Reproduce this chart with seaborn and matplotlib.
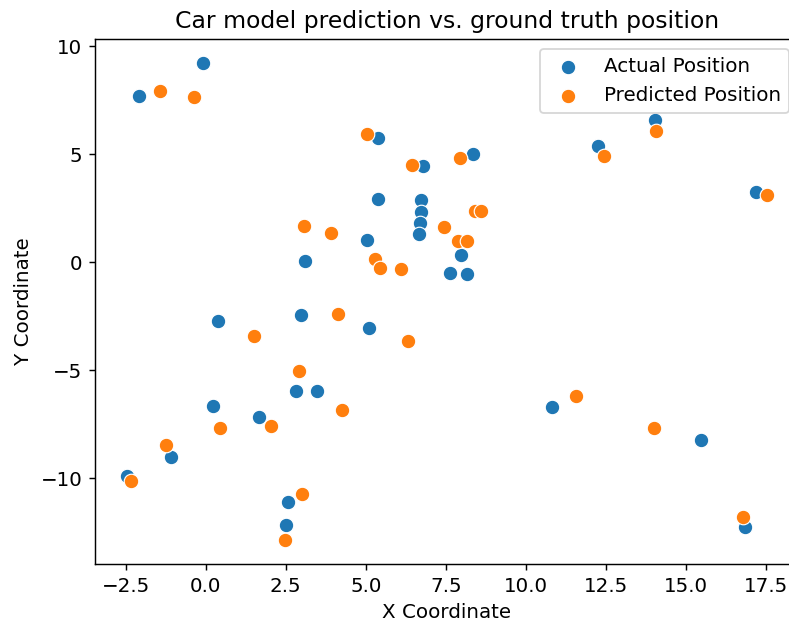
import matplotlib
matplotlib.use("Agg")
import matplotlib.pyplot as plt
import seaborn as sns
import pandas as pd

actual_x = [0.38, 2.99, 5.10, 2.81, 3.48, 0.23, 1.66, -1.09, -2.46, 2.57, 2.52,
            -0.10, -2.09, 5.38, 6.80, 5.38, 6.73, 6.72, 6.69, 6.67, 5.05, 3.10,
            8.34, 7.97, 7.62, 8.15, 14.04, 12.25, 17.20, 10.82, 15.46, 16.83]
actual_y = [-2.70, -2.42, -3.02, -5.97, -5.94, -6.67, -7.16, -9.00, -9.91, -11.10, -12.14,
            9.23, 7.70, 5.75, 4.46, 2.92, 2.87, 2.33, 1.81, 1.30, 1.05, 0.08,
            4.99, 0.32, -0.51, -0.52, 6.59, 5.37, 3.27, -6.70, -8.23, -12.24]

pred_x = [1.50, 4.12, 6.32, 2.91, 4.26, 2.05, 0.44, -1.25, -2.32, 3.01, 2.47,
          -1.43, -0.37, 5.04, 6.45, 3.06, 3.91, 5.30, 5.44, 6.09,
          7.95, 7.45, 8.41, 8.60, 7.88, 8.16, 14.05, 12.44, 17.53, 11.57, 14.01, 16.79]
pred_y = [-3.39, -2.39, -3.63, -5.03, -6.84, -7.56, -7.67, -8.44, -10.13, -10.73, -12.86,
          7.92, 7.65, 5.94, 4.52, 1.70, 1.34, 0.15, -0.28, -0.31,
          4.83, 1.63, 2.36, 2.36, 1.00, 1.00, 6.06, 4.91, 3.13, -6.17, -7.69, -11.81]

title = "Car model prediction vs. ground truth position"
xlabel = "X Coordinate"
ylabel = "Y Coordinate"
labels = ["Actual Position", "Predicted Position"]

plt.rcParams["font.size"] = 11

dpi = 130
fig = plt.figure(figsize=(789 / dpi, 628 / dpi), dpi=dpi)
ax = fig.add_axes([95 / 789, 1 - 564 / 628, (799 - 95) / 789, (564 - 39) / 628])

sns.scatterplot(x=actual_x, y=actual_y, color="tab:blue", s=65, label=labels[0], ax=ax)
sns.scatterplot(x=pred_x, y=pred_y, color="tab:orange", s=65, label=labels[1], ax=ax)

ax.set_title(title, fontsize=13)
ax.set_xlabel(xlabel)
ax.set_ylabel(ylabel)
ax.legend(loc="upper right")

fig.savefig("out.png", dpi=dpi)
